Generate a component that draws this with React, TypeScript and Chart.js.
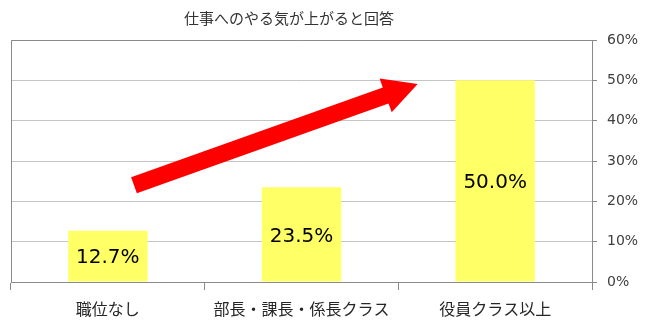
import React, { useEffect, useRef } from "react";
import { Chart, registerables } from "chart.js";

Chart.register(...registerables);

const TITLE = "仕事へのやる気が上がると回答";
const CATEGORIES = ["職位なし", "部長・課長・係長クラス", "役員クラス以上"];
const VALUES = [12.7, 23.5, 50.0];
const Y_MIN = 0;
const Y_MAX = 60;
const Y_STEP = 10;
// arrow annotation in data units: [category index, percent]
const ARROW_FROM = [0.135, 24.0];
const ARROW_TO = [1.6, 49.1];

const AXIS_COLOR = "#8a8a8a";
const GRID_COLOR = "#c4c4c4";
const TEXT_COLOR = "#404040";

const titlePlugin = {
  id: "customTitle",
  afterDraw(chart: any) {
    const { ctx } = chart;
    ctx.save();
    ctx.fillStyle = "#333333";
    ctx.font = "15px 'Noto Sans CJK JP'";
    ctx.textAlign = "center";
    ctx.textBaseline = "middle";
    ctx.fillText(TITLE, 289, 18);
    ctx.restore();
  },
};

const plotBorder = {
  id: "plotBorder",
  beforeDatasetsDraw(chart: any) {
    const { ctx, chartArea } = chart;
    ctx.save();
    ctx.strokeStyle = AXIS_COLOR;
    ctx.lineWidth = 1;
    ctx.beginPath();
    ctx.moveTo(Math.round(chartArea.left) + 0.5, chartArea.bottom);
    ctx.lineTo(Math.round(chartArea.left) + 0.5, Math.round(chartArea.top) + 0.5);
    ctx.lineTo(chartArea.right, Math.round(chartArea.top) + 0.5);
    ctx.stroke();
    ctx.restore();
  },
};

const barLabels = {
  id: "barLabels",
  afterDatasetsDraw(chart: any) {
    const { ctx } = chart;
    const meta = chart.getDatasetMeta(0);
    ctx.save();
    ctx.fillStyle = "#000000";
    ctx.font = "20px 'DejaVu Sans'";
    ctx.textAlign = "center";
    ctx.textBaseline = "middle";
    meta.data.forEach((bar: any, i: number) => {
      const v = chart.data.datasets[0].data[i] as number;
      ctx.fillText(v.toFixed(1) + "%", bar.x, (bar.y + bar.base) / 2 + 2);
    });
    ctx.restore();
  },
};

const arrowPlugin = {
  id: "arrowPlugin",
  afterDatasetsDraw(chart: any) {
    const { ctx } = chart;
    const xs = chart.scales.x;
    const ys = chart.scales.y;
    const x0 = xs.getPixelForValue(ARROW_FROM[0]);
    const y0 = ys.getPixelForValue(ARROW_FROM[1]);
    const x1 = xs.getPixelForValue(ARROW_TO[0]);
    const y1 = ys.getPixelForValue(ARROW_TO[1]);
    const dx = x1 - x0;
    const dy = y1 - y0;
    const len = Math.hypot(dx, dy);
    const ux = dx / len;
    const uy = dy / len;
    const nx = -uy;
    const ny = ux;
    const shaftHalf = 8.5;
    const headHalf = 18;
    const headLen = 34;
    const bx = x1 - ux * headLen;
    const by = y1 - uy * headLen;
    ctx.save();
    ctx.fillStyle = "#ff0000";
    ctx.beginPath();
    ctx.moveTo(x0 + nx * shaftHalf, y0 + ny * shaftHalf);
    ctx.lineTo(bx + nx * shaftHalf, by + ny * shaftHalf);
    ctx.lineTo(bx + nx * headHalf, by + ny * headHalf);
    ctx.lineTo(x1, y1);
    ctx.lineTo(bx - nx * headHalf, by - ny * headHalf);
    ctx.lineTo(bx - nx * shaftHalf, by - ny * shaftHalf);
    ctx.lineTo(x0 - nx * shaftHalf, y0 - ny * shaftHalf);
    ctx.closePath();
    ctx.fill();
    ctx.restore();
  },
};

export default function App() {
  const ref = useRef<HTMLCanvasElement | null>(null);
  useEffect(() => {
    if (!ref.current) return;
    const chart = new Chart(ref.current, {
      type: "bar",
      data: {
        labels: CATEGORIES,
        datasets: [
          {
            data: VALUES,
            backgroundColor: "#ffff66",
            borderWidth: 0,
            barPercentage: 0.41,
            categoryPercentage: 1,
          },
        ],
      },
      options: {
        responsive: false,
        animation: false,
        layout: { padding: { left: 11, right: 0, top: 40, bottom: 0 } },
        plugins: {
          legend: { display: false },
          tooltip: { enabled: false },
          title: { display: false },
        },
        scales: {
          x: {
            offset: true,
            grid: {
              display: true,
              offset: true,
              drawOnChartArea: false,
              drawTicks: true,
              tickLength: 8,
              tickColor: AXIS_COLOR,
            },
            border: { display: true, color: AXIS_COLOR },
            ticks: {
              color: "#262626",
              padding: 9,
              font: { family: "'Noto Sans CJK JP'", size: 16 },
              maxRotation: 0,
            },
            afterFit(scale: any) {
              scale.height = 50;
            },
          },
          y: {
            position: "right",
            min: Y_MIN,
            max: Y_MAX,
            ticks: {
              stepSize: Y_STEP,
              color: TEXT_COLOR,
              padding: 10,
              font: { family: "'DejaVu Sans'", size: 14 },
              callback: (v: any) => v + "%",
            },
            grid: {
              color: GRID_COLOR,
              tickColor: AXIS_COLOR,
              tickLength: 5,
            },
            border: { display: true, color: AXIS_COLOR },
            afterFit(scale: any) {
              scale.width = 58;
            },
          },
        },
      },
      plugins: [plotBorder, barLabels, arrowPlugin, titlePlugin],
    });
    return () => chart.destroy();
  }, []);
  return (
    <div style={{ position: "absolute", left: 0, top: 0, width: 650, height: 332, background: "#ffffff" }}>
      <canvas ref={ref} width={650} height={332} />
    </div>
  );
}
